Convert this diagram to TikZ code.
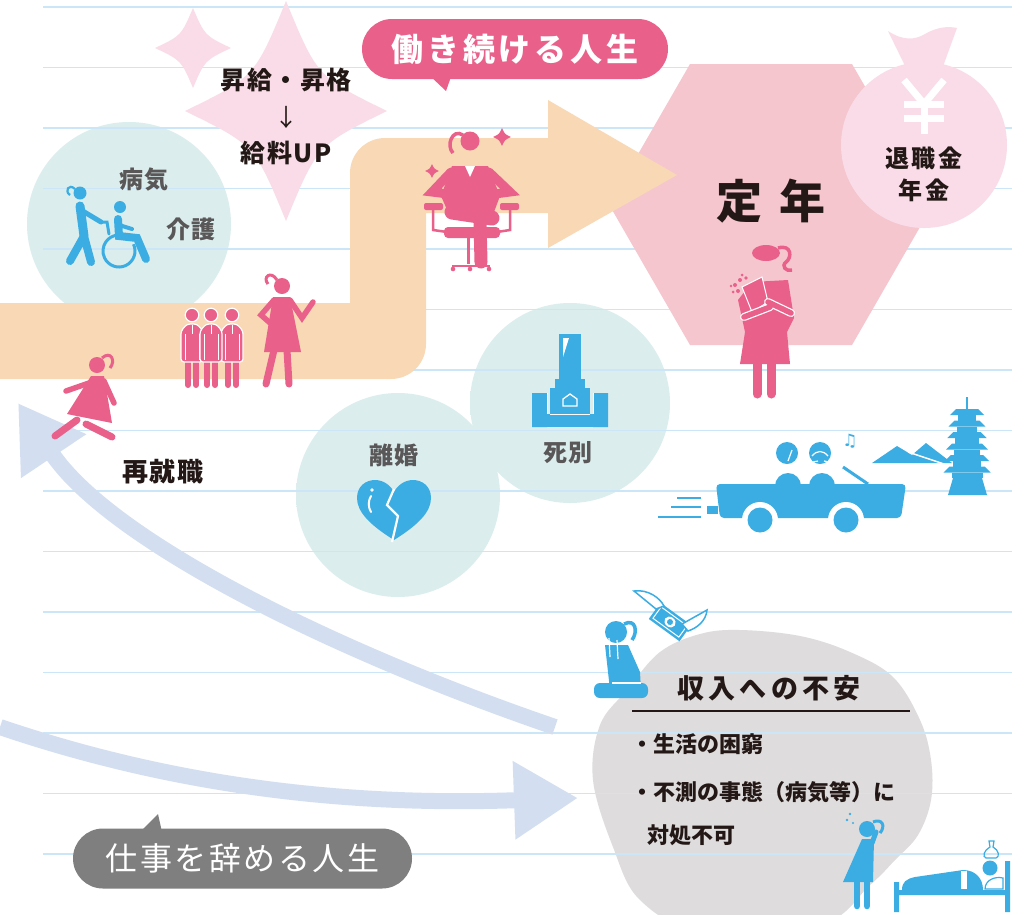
\documentclass[tikz,border=0pt]{standalone}
\usepackage{fontspec}
\setmainfont{Noto Sans CJK JP}
\newfontfamily\symfont{DejaVu Sans}
\usetikzlibrary{positioning, arrows.meta, shapes.geometric, calc}

\definecolor{RuleBlue}{HTML}{CBE6F6}
\definecolor{RoadPeach}{HTML}{F8D8B5}
\definecolor{HexPink}{HTML}{F5C6CE}
\definecolor{BlushPink}{HTML}{F9DCE8}
\definecolor{RosePink}{HTML}{E9618B}
\definecolor{SkyBlue}{HTML}{3BADE2}
\definecolor{MistTeal}{HTML}{DBEEED}
\definecolor{FlowBlue}{HTML}{D3DFF0}
\definecolor{FogGray}{HTML}{DEDCDD}
\definecolor{SlateGray}{HTML}{7F7F7F}
\definecolor{InkDark}{HTML}{231815}
\definecolor{InkGray}{HTML}{595757}

\newcommand\jpsize[1]{\fontsize{#1}{#1}\selectfont}
\newcommand\spaced[1]{\addfontfeature{LetterSpace=#1}}
% soft disc, fading out towards the rim
\pgfdeclareradialshading{mist}{\pgfpoint{0bp}{0bp}}{color(0bp)=(MistTeal);color(25bp)=(MistTeal);color(30bp)=(MistTeal!70!white);color(35.4bp)=(white);color(50bp)=(white)}

% four-pointed sparkle: [colour] centre x, centre y, half width, half height
\newcommand\sparkle[5][BlushPink]{%
  \fill[#1] (#2,#3-#5) .. controls (#2+0.31*#4,#3-0.31*#5) .. (#2+#4,#3)
    .. controls (#2+0.31*#4,#3+0.31*#5) .. (#2,#3+#5)
    .. controls (#2-0.31*#4,#3+0.31*#5) .. (#2-#4,#3)
    .. controls (#2-0.31*#4,#3-0.31*#5) .. (#2,#3-#5);}

\begin{document}
\begin{tikzpicture}[x=1pt, y=-1pt,
  rule/.style={RuleBlue, line width=1.2pt},
  flow/.style={FlowBlue, line width=16pt, -{Triangle[length=64pt, width=74pt]}},
  tag/.style={rounded corners=30pt, minimum height=60pt, text=white, inner xsep=20pt},
  topic/.style={font=\bfseries\jpsize{24}, text=InkGray},
  ink/.style={font=\bfseries\jpsize{24}, text=InkDark},
  item/.style={font=\bfseries\jpsize{22}, text=InkDark, anchor=west},
  limb/.style={line cap=round, line width=#1},
  limb/.default=8pt,
]
  \fill[white] (0,0) rectangle (1032,914);
  \useasboundingbox (0,0) rectangle (1032,914);

  % soft spots behind the life events
  \shade[shading=mist] (129,224) circle (102);
  \shade[shading=mist] (398,495) circle (102);
  \shade[shading=mist] (570,403) circle (100);

  % worry cloud
  \fill[FogGray] plot[smooth cycle, tension=0.6] coordinates {
    (627,690) (660,652) (700,634) (740,630) (800,636) (850,652) (893,677)
    (920,720) (931,760) (931,800) (918,835) (895,860) (870,885) (820,925)
    (700,930) (640,900) (613,847) (593,780) (600,725)};

  % ruled paper
  \foreach \k in {0,...,14}
    \draw[rule] (43,{7+60.5*\k}) -- (1012,{7+60.5*\k});

  % retirement hexagon
  \coordinate (retire) at (771,204.5);
  \fill[HexPink] (690,64) -- (852,64) -- (933,204.5) -- (852,345) -- (690,345) -- (609,204.5) -- cycle;

  % the working road
  \fill[RoadPeach] (0,303) -- (350,303) -- (350,173) .. controls (350,153.7) and (365.7,138) .. (385,138)
    -- (548,138) -- (548,100) -- (677,175) -- (548,248) -- (548,213) -- (426,213)
    -- (426,344) .. controls (426,363.3) and (410.3,379) .. (391,379) -- (0,379) -- cycle;

  % money bag
  \fill[BlushPink] (888,31) .. controls (903,41) and (915,40) .. (925,34)
    .. controls (937,27) and (948,26) .. (957,28) -- (941,72) -- (908,72) -- cycle;
  \fill[BlushPink] (924,145) circle (83);
  \draw[white, line width=7pt] (904,80) -- (924,104) -- (944,80);
  \draw[white, line width=7pt] (924,103) -- (924,134) (904,104) -- (944,104) (904,118) -- (944,118);
  \node[font=\bfseries\fontsize{24}{32}\selectfont, text=InkDark, align=center] (fund) at (924,174)
    {\spaced{10}退職金\\\spaced{10}年金};

  \node[font=\bfseries\jpsize{46}, text=InkDark] (teinen) at (771,201) {定\hspace{18pt}年};

  % sparkles
  \sparkle{286}{111}{101}{110}
  \sparkle{193}{48}{38}{40}
  \node[ink, font=\bfseries\jpsize{25}] (raise) at (286,80) {\spaced{6}昇給・昇格};
  \node[ink, font=\jpsize{24}] (then) at (286,117) {↓};
  \node[ink, font=\bfseries\jpsize{25}] (payup) at (286,153) {\spaced{6}給料UP};

  % life paths
  \coordinate (fallback) at (555,727);
  \coordinate (rejoin) at (18,403);
  \coordinate (quitfrom) at (0,727);
  \coordinate (worry) at (578,798);
  \draw[flow] (fallback) .. controls (330,650) and (110,540) .. (rejoin);
  \draw[flow] (quitfrom) .. controls (200,795) and (380,805) .. (worry);

  % speech tags
  \node[tag, fill=RosePink, minimum width=306pt, font=\bfseries\jpsize{32}] (working) at (515,49) {\spaced{12}働き続ける人生};
  \fill[RosePink] (428,74) -- (452,74) -- (446,91) -- cycle;
  \node[tag, fill=SlateGray, minimum width=339pt, font=\jpsize{32}] (quitting) at (242.5,858.5) {\spaced{8}仕事を辞める人生};
  \fill[SlateGray] (140,832) -- (162,832) -- (158,814) -- cycle;

  % event labels
  \node[topic] (illness) at (144,180) {\spaced{8}病気};
  \node[topic] (care) at (191,229) {\spaced{8}介護};
  \node[topic] (divorce) at (394,455) {\spaced{8}離婚};
  \node[topic] (bereave) at (568,453) {\spaced{8}死別};
  \node[ink, font=\bfseries\jpsize{26}] (rehire) at (163,472) {\spaced{6}再就職};

  % anxiety list
  \node[ink, font=\bfseries\jpsize{27}] (anxiety) at (769,688) {\spaced{16}収入への不安};
  \draw[InkDark, line width=1.5pt] (632,711) -- (910,711);
  \node[item] (poverty) at (628,744) {・生活の困窮};
  \node[item] (mishap) at (628,792) {・不測の事態（病気等）に};
  \node[item] (helpless) at (644,835) {対処不可};

  % carer pushing a wheelchair
  \fill[SkyBlue] (80,193) circle (6.5);
  \draw[SkyBlue, line width=2.2pt] (75,189) .. controls (69,183) and (64,191) .. (70,195);
  \draw[SkyBlue, limb=9pt] (80,206) -- (84,236);
  \draw[SkyBlue, limb=8pt] (84,236) -- (70,261) (84,236) -- (91,262);
  \draw[SkyBlue, limb=5pt] (81,210) -- (101,222);
  \draw[SkyBlue, limb=3pt] (101,222) -- (107,222) -- (109,234);
  \fill[SkyBlue] (120,207) circle (6);
  \draw[SkyBlue, limb=8pt] (118,219) -- (119,236) -- (137,238) -- (146,259);
  \draw[SkyBlue, limb=4pt] (119,225) -- (132,229);
  \draw[SkyBlue, line width=3pt] (119,251) ++(-25:16) arc[start angle=-25, end angle=265, radius=16];

  % colleagues
  \foreach \mx in {192,232,211} {
    \draw[RosePink, limb=6pt] (\mx-4,358) -- (\mx-4,385) (\mx+4,358) -- (\mx+4,385);
    \fill[RosePink, draw=white, line width=1.2pt, rounded corners=3pt]
      (\mx-11,362) -- (\mx-11,331) -- (\mx-5,324) -- (\mx+5,324) -- (\mx+11,331) -- (\mx+11,362) -- cycle;
    \draw[white, line width=0.9pt] (\mx,325) -- (\mx,334) (\mx-7,334) -- (\mx-7,360) (\mx+7,334) -- (\mx+7,360);
    \fill[RosePink, draw=white, line width=1.2pt] (\mx,315) circle (6.8);
  }

  % woman with hand on hip
  \fill[RosePink] (282,286) circle (8);
  \draw[RosePink, line width=3pt] (277,280) .. controls (271,270) and (262,277) .. (268,284);
  \fill[RosePink] (273,297) -- (290,297) -- (301,352) -- (264,352) -- cycle;
  \draw[RosePink, limb=7pt] (274,350) -- (266,384) (287,350) -- (289,384);
  \draw[RosePink, limb=5.5pt] (274,300) -- (261,315) -- (277,329);
  \draw[RosePink, limb=5.5pt] (290,300) -- (302,318) -- (313,302);

  % woman running back to work
  \fill[RosePink] (97,365) circle (8);
  \draw[RosePink, line width=3pt] (102,358) .. controls (111,350) and (116,361) .. (110,368);
  \fill[RosePink] (91,376) -- (104,376) -- (112,423) -- (67,414) -- cycle;
  \draw[RosePink, limb=5.5pt] (89,383) -- (66,391);
  \draw[RosePink, limb=5.5pt] (104,381) -- (114,403);
  \draw[RosePink, limb=7pt] (77,420) -- (55,436);
  \draw[RosePink, limb=7pt] (86,424) -- (112,437);

  % woman at her desk chair
  \fill[RosePink] (470,141) circle (9.5);
  \draw[RosePink, line width=3.5pt] (463,135) .. controls (452,128) and (446,146) .. (453,153);
  \fill[RosePink] (452,166) -- (488,166) -- (500,196) -- (494,212) -- (448,212) -- (441,196) -- cycle;
  \fill[white] (465,166) -- (475,166) -- (470,177) -- cycle;
  \draw[RosePink, limb=9pt] (451,172) -- (432,192) -- (448,194);
  \draw[RosePink, limb=9pt] (489,172) -- (510,192) -- (495,194);
  \fill[RosePink, rounded corners=2pt] (424,203) rectangle (443,210) (500,203) rectangle (519,210);
  \draw[RosePink, line width=2.5pt] (433,210) -- (433,230) -- (447,232) (510,210) -- (510,230) -- (497,232);
  \fill[RosePink, rounded corners=4pt] (444,227) rectangle (500,238);
  \draw[white, line width=7pt, line cap=round] (452,209) -- (492,215);
  \draw[RosePink, limb=15pt] (452,212) -- (492,218);
  \draw[RosePink, limb=13pt] (480,221) -- (481,262);
  \draw[RosePink, line width=3pt] (468,238) -- (468,264);
  \draw[RosePink, line width=2.5pt] (452,266) -- (490,266);
  \fill[RosePink] (453,269) circle (2.3) (470,269) circle (2.3) (489,269) circle (2.3);
  \sparkle[RosePink]{502}{137}{9}{9}
  \sparkle[RosePink]{432}{171}{7}{7}

  % retiree with a bouquet
  \fill[RosePink] (766,253) ellipse (14 and 8);
  \draw[RosePink, line width=3.5pt] (778,248) .. controls (792,244) and (792,258) .. (786,262) .. controls (781,266) and (786,272) .. (792,270);
  \fill[RosePink] (752,282) -- (788,280) -- (794,318) -- (787,332) -- (790,364) -- (740,364) -- (745,332) -- (738,300) -- cycle;
  \fill[RosePink, draw=white, line width=1pt] (742,287) -- (762,277) -- (768,302) -- (752,312) -- cycle;
  \fill[RosePink] (735,285) circle (2) (740,280) circle (2) (746,278) circle (1.8) (738,291) circle (2)
    (733,292) circle (1.5) (742,275) circle (1.5) (731,286) circle (1.4);
  \draw[white, line width=8pt, line cap=round] (744,317) -- (770,307) (768,302) -- (791,313);
  \draw[RosePink, limb=5.5pt] (744,317) -- (770,307) (768,302) -- (791,313);
  \draw[RosePink, limb=9pt] (757,362) -- (757,394) (771,362) -- (771,394);

  % gravestone
  \fill[SkyBlue] (559,334) rectangle (581,380);
  \fill[white] (563,338) -- (569,338) -- (563,357) -- cycle;
  \fill[SkyBlue] (555,379) rectangle (585,388);
  \fill[SkyBlue] (550,388) rectangle (590,420);
  \fill[SkyBlue] (532,393) rectangle (547,427) (593,393) rectangle (608,427);
  \fill[SkyBlue] (545,414) rectangle (595,427);
  \draw[white, line width=1pt] (547,393) -- (547,414) (593,393) -- (593,414) (550,414) -- (590,414);
  \draw[white, line width=1.3pt] (563,406) -- (563,399) -- (570,394) -- (577,399) -- (577,406) -- cycle;

  % broken heart
  \fill[SkyBlue] (394,540) .. controls (370,525) and (357,512) .. (357,498)
    .. controls (357,486) and (366,480) .. (375,480) .. controls (384,480) and (391,486) .. (394,492)
    .. controls (397,486) and (404,480) .. (413,480) .. controls (422,480) and (431,486) .. (431,498)
    .. controls (431,512) and (418,525) .. (394,540);
  \draw[white, line width=2.2pt] (394,489) -- (387,505) -- (398,516) -- (392,542);
  \draw[white, line width=2pt, line cap=round] (371,496) .. controls (368,501) and (368,507) .. (371,512);
  \fill[white] (372,490) circle (1.8);

  % couple on a drive
  \draw[SkyBlue, line width=2pt] (677,498) -- (701,498) (671,507) -- (701,507) (658,517) -- (701,517);
  \fill[SkyBlue] (788,486) circle (13) (822,486) circle (13);
  \fill[SkyBlue, rounded corners=4pt] (716,484) -- (906,484) -- (901,518) -- (720,518) -- cycle;
  \fill[SkyBlue] (707,506) rectangle (718,514);
  \fill[white] (760,520) circle (18) (846,520) circle (18);
  \fill[SkyBlue] (760,520) circle (12.5) (846,520) circle (12.5);
  \fill[SkyBlue] (787,453) circle (11) (820,453) circle (11);
  \draw[white, line width=1.2pt] (792,450) -- (788,461) (812,456) .. controls (817,450) and (823,450) .. (828,456);
  \draw[white, line width=1.2pt] (813,462) -- (818,461) (824,461) -- (829,462);
  \draw[SkyBlue, line width=3pt] (843,467) -- (868,484);
  \node[text=SkyBlue, font=\symfont\jpsize{17}] (tune) at (850,441) {♫};

  % hills and pagoda
  \fill[SkyBlue] (872,463) -- (897,446) -- (912,455) -- (926,443) -- (952,463) -- cycle;
  \draw[white, line width=1.5pt] (908,452) -- (950,466);
  \draw[SkyBlue, line width=1.5pt] (967,397) -- (967,410);
  \foreach \i in {0,...,5} {
    \pgfmathsetmacro\ty{409+11.5*\i}
    \pgfmathsetmacro\tw{11+1.3*\i}
    \fill[SkyBlue] (967-\tw-6,\ty+6) -- (967-\tw,\ty) -- (967+\tw,\ty) -- (967+\tw+6,\ty+6) -- cycle;
    \fill[SkyBlue] (967-\tw+2,\ty+6) rectangle (967+\tw-2,\ty+11.5);
  }
  \fill[SkyBlue] (948,495) -- (987,495) -- (982,478) -- (953,478) -- cycle;

  % kneeling woman and money flying off
  \fill[SkyBlue] (616,632) circle (11);
  \draw[SkyBlue, line width=3.5pt] (624,624) .. controls (636,618) and (638,632) .. (632,640);
  \fill[SkyBlue] (605,645) -- (628,645) -- (640,672) -- (641,690) -- (610,690) -- cycle;
  \draw[white, line width=1.2pt] (609,638) -- (610,657) (617,640) -- (618,659);
  \fill[SkyBlue, rounded corners=6pt] (594,683) rectangle (648,698);
  \draw[white, line width=1.2pt] (612,683) -- (641,683);
  \begin{scope}[shift={(670,622)}, rotate=-36]
    \fill[SkyBlue] (-19,-10) rectangle (19,10);
    \draw[white, line width=1pt] (-16,-7) rectangle (16,7);
    \fill[white] (0,0) ellipse (6 and 5);
    \fill[SkyBlue] (0,0) circle (3);
  \end{scope}
  \filldraw[fill=white, draw=SkyBlue, line width=1.5pt] (656,609) -- (634,591)
    .. controls (648,589) and (660,598) .. (664,606) -- cycle;
  \filldraw[fill=white, draw=SkyBlue, line width=1.5pt] (682,624) -- (707,610)
    .. controls (706,621) and (697,628) .. (688,631) -- cycle;

  % crying woman
  \fill[SkyBlue] (867,829) circle (8);
  \draw[SkyBlue, line width=3pt] (873,822) .. controls (882,818) and (886,826) .. (880,833);
  \fill[SkyBlue] (850,814) circle (1.4) (847,820) circle (1.3) (853,823) circle (1.1);
  \fill[SkyBlue] (862,839) -- (874,839) -- (873,882) -- (843,882) -- cycle;
  \draw[SkyBlue, limb=5pt] (872,843) -- (876,832);
  \draw[SkyBlue, limb=6.5pt] (857,882) -- (857,906) (867,882) -- (867,906);

  % sickbed
  \fill[SkyBlue] (894,882) rectangle (899,912) (1005,861) rectangle (1010,912) (894,890) rectangle (1010,895);
  \fill[SkyBlue] (902,890) .. controls (902,882) and (906,879) .. (915,877) -- (963,870)
    .. controls (975,870) and (983,878) .. (983,890) -- cycle;
  \fill[white] (961,871) rectangle (967,889);
  \fill[SkyBlue] (990,868) circle (7.5);
  \filldraw[fill=white, draw=SkyBlue, line width=1.2pt] (985,889) .. controls (985,880) and (995,876) .. (1003,878) -- (1003,889) -- cycle;
  \draw[SkyBlue, line width=1.2pt] (989,841) -- (994,841) -- (993,847) .. controls (999,850) and (1000,857) .. (996,858)
    -- (986,858) .. controls (982,857) and (984,850) .. (990,847) -- cycle;
\end{tikzpicture}
\end{document}
